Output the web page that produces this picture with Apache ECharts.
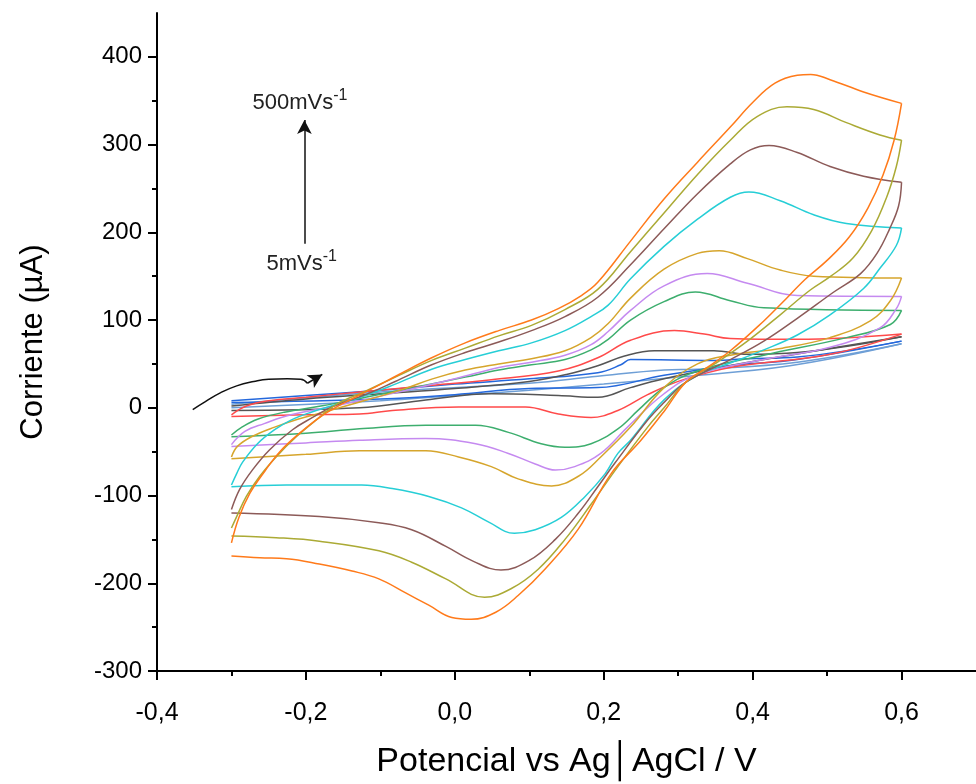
<!DOCTYPE html>
<html>
<head>
<meta charset="utf-8">
<script src="https://cdn.jsdelivr.net/npm/echarts@6/dist/echarts.min.js"></script>
<style>
html,body{margin:0;padding:0;background:#fff;}
#chart{width:976px;height:784px;}
</style>
</head>
<body>
<div id="chart"></div>
<script>
// ---- tick values ----
const xMajorTicks = [-0.4, -0.2, 0.0, 0.2, 0.4, 0.6];
const xMinorTicks = [-0.3, -0.1, 0.1, 0.3, 0.5];
const yMajorTicks = [-300, -200, -100, 0, 100, 200, 300, 400];
const yMinorTicks = [-250, -150, -50, 50, 150, 250, 350];

// ---- scan rate labels ----
const rateHigh = '500mVs';
const rateLow = '5mVs';

// ---- voltammograms: [potential V, current µA], forward and reverse sweeps ----
const fwd500 = [[-0.3,-154],[-0.29,-125],[-0.275,-97],[-0.255,-72],[-0.235,-50],[-0.21,-30],[-0.18,-10],[-0.15,5],[-0.113,21],[-0.075,38],[-0.031,57],[0.014,74],[0.059,88],[0.103,100],[0.139,113],[0.17,128],[0.192,143],[0.236,190],[0.281,238],[0.326,280],[0.37,320],[0.40,348],[0.43,370],[0.46,379],[0.478,380],[0.504,374],[0.549,360],[0.6,347]];
const rev500 = [[0.6,347],[0.59,305],[0.575,265],[0.555,228],[0.53,195],[0.5,168],[0.47,146],[0.44,120],[0.415,99],[0.37,65],[0.339,46],[0.31,29],[0.282,-3],[0.25,-37],[0.21,-75],[0.166,-138],[0.121,-184],[0.085,-214],[0.055,-233],[0.022,-241],[-0.004,-239],[-0.035,-225],[-0.066,-211],[-0.102,-195],[-0.138,-186],[-0.182,-178],[-0.226,-172],[-0.262,-171],[-0.3,-169]];

const fwd400 = [[-0.3,-137],[-0.293,-124],[-0.28,-101],[-0.262,-78],[-0.24,-56],[-0.213,-33],[-0.182,-11],[-0.159,4],[-0.12,19],[-0.075,37],[-0.031,54],[0.014,68],[0.059,82],[0.103,94],[0.148,112],[0.192,135],[0.236,178],[0.281,222],[0.326,266],[0.37,305],[0.406,332],[0.446,343],[0.482,340],[0.526,325],[0.571,311],[0.6,305]];
const rev400 = [[0.6,305],[0.593,275],[0.58,240],[0.56,202],[0.535,171],[0.505,150],[0.477,134],[0.437,106],[0.393,76],[0.349,50],[0.31,29],[0.281,0],[0.259,-22],[0.219,-67],[0.183,-110],[0.148,-150],[0.112,-184],[0.076,-206],[0.04,-216],[-0.012,-195],[-0.058,-176],[-0.102,-163],[-0.182,-152],[-0.24,-148],[-0.3,-146]];

const fwd300 = [[-0.3,-116],[-0.289,-93],[-0.272,-71],[-0.249,-48],[-0.218,-25],[-0.191,-11],[-0.165,1],[-0.12,15],[-0.08,30],[-0.031,49],[0.014,63],[0.059,75],[0.103,88],[0.148,104],[0.192,126],[0.236,163],[0.281,204],[0.326,244],[0.37,278],[0.397,294],[0.422,299],[0.46,291],[0.504,275],[0.549,264],[0.6,257]];
const rev300 = [[0.6,257],[0.596,230],[0.584,204],[0.567,176],[0.545,153],[0.509,132],[0.46,102],[0.415,76],[0.37,55],[0.31,29],[0.281,6],[0.259,-14],[0.215,-63],[0.192,-90],[0.166,-120],[0.135,-150],[0.1,-174],[0.062,-185],[0.025,-175],[-0.012,-158],[-0.058,-139],[-0.102,-131],[-0.182,-124],[-0.3,-120]];

const fwd200 = [[-0.3,-88],[-0.293,-75],[-0.285,-62],[-0.265,-41],[-0.242,-25],[-0.22,-14],[-0.193,-5],[-0.166,2],[-0.12,14],[-0.08,27],[-0.031,44],[0.014,55],[0.059,65],[0.103,74],[0.148,88],[0.183,104],[0.206,117],[0.236,147],[0.281,184],[0.326,215],[0.37,240],[0.395,246],[0.437,236],[0.482,220],[0.526,210],[0.6,205]];
const rev200 = [[0.6,205],[0.593,185],[0.571,159],[0.549,136],[0.504,106],[0.46,83],[0.415,66],[0.37,51],[0.326,37],[0.281,9],[0.236,-37],[0.219,-52],[0.202,-75],[0.175,-101],[0.143,-125],[0.108,-139],[0.08,-143],[0.045,-130],[0.009,-114],[-0.035,-101],[-0.084,-92],[-0.125,-88],[-0.226,-88],[-0.3,-90]];

const fwd100 = [[-0.3,-56],[-0.292,-44],[-0.273,-33],[-0.242,-22],[-0.211,-13],[-0.185,-7],[-0.13,6],[-0.07,21],[-0.03,33],[0.014,43],[0.059,50],[0.103,56],[0.148,65],[0.183,80],[0.206,96],[0.236,125],[0.281,158],[0.326,176],[0.355,179],[0.393,170],[0.437,157],[0.482,150],[0.6,148]];
const rev100 = [[0.6,148],[0.585,122],[0.558,99],[0.504,80],[0.44,68],[0.37,60],[0.326,50],[0.281,23],[0.236,-22],[0.196,-56],[0.166,-78],[0.13,-89],[0.085,-81],[0.049,-67],[0.005,-56],[-0.039,-49],[-0.128,-49],[-0.2,-53],[-0.3,-58]];

const fwd75 = [[-0.3,-42],[-0.282,-27],[-0.256,-18],[-0.22,-8],[-0.15,4],[-0.08,17],[0,33],[0.059,46],[0.103,52],[0.148,60],[0.183,72],[0.206,87],[0.236,111],[0.281,139],[0.339,153],[0.393,142],[0.46,128],[0.6,127]];
const rev75 = [[0.6,127],[0.593,113],[0.571,91],[0.504,69],[0.415,55],[0.326,38],[0.281,16],[0.232,-22],[0.196,-52],[0.161,-67],[0.135,-71],[0.108,-64],[0.072,-52],[0.028,-41],[-0.039,-35],[-0.128,-37],[-0.2,-40],[-0.3,-44]];

const fwd50 = [[-0.3,-31],[-0.286,-22],[-0.265,-13],[-0.229,-5],[-0.18,2],[-0.12,12],[-0.05,24],[0.014,35],[0.059,43],[0.103,49],[0.148,55],[0.183,66],[0.206,78],[0.236,100],[0.281,121],[0.323,132],[0.37,122],[0.415,114],[0.6,111]];
const rev50 = [[0.6,111],[0.585,95],[0.526,80],[0.415,60],[0.326,42],[0.281,23],[0.246,-3],[0.219,-24],[0.183,-41],[0.148,-45],[0.116,-41],[0.072,-28],[0.028,-20],[-0.039,-20],[-0.128,-24],[-0.2,-29],[-0.3,-33]];

const fwd25 = [[-0.3,-8],[-0.28,2],[-0.25,8],[-0.2,12],[-0.128,18],[-0.039,25],[0.049,32],[0.139,42],[0.192,57],[0.236,77],[0.295,88],[0.335,84],[0.37,79],[0.46,78],[0.6,84]];
const rev25 = [[0.6,84],[0.504,61],[0.37,46],[0.303,31],[0.259,15],[0.219,-3],[0.183,-11],[0.139,-7],[0.095,1],[0.005,1],[-0.084,-3],[-0.128,-7],[-0.2,-8],[-0.3,-10]];

const fwd20 = [[-0.3,2],[-0.2,10],[-0.1,16],[0,22],[0.1,30],[0.15,38],[0.192,48],[0.228,59],[0.268,65],[0.348,65],[0.393,61],[0.46,63],[0.6,81]];
const rev20 = [[0.6,81],[0.45,60],[0.35,45],[0.281,33],[0.236,23],[0.192,12],[0.139,14],[0.049,16],[-0.039,9],[-0.128,0],[-0.3,-3]];

const fwd10 = [[-0.3,8],[-0.2,14],[-0.1,20],[0,27],[0.1,33],[0.192,40],[0.223,49],[0.236,55],[0.348,54],[0.393,56],[0.46,58],[0.6,76]];
const rev10 = [[0.6,76],[0.46,55],[0.37,48],[0.281,37],[0.192,23],[0.1,22],[0,15],[-0.1,10],[-0.3,6]];

const fwd5 = [[-0.3,4],[-0.1,18],[0.1,28],[0.192,36],[0.281,43],[0.326,44],[0.46,52],[0.6,73]];
const rev5 = [[0.6,73],[0.45,48],[0.3,35],[0.2,27],[0.1,20],[0,14],[-0.1,8],[-0.3,0]];

// ---- annotations (data coordinates) ----
const rateArrow = [[-0.202, 187], [-0.202, 328]];
const sweepArrowPath = [[-0.352,-2],[-0.335,7],[-0.315,17],[-0.293,25],[-0.27,30],[-0.25,32.5],[-0.225,33],[-0.207,32.5],[-0.198,28]];
const sweepArrowHead = [[-0.198,28],[-0.178,38]];

const curves = [
  {name:'5', color:'#6E9FD6', fwd:fwd5, rev:rev5},
  {name:'10', color:'#2468DC', fwd:fwd10, rev:rev10},
  {name:'20', color:'#555555', fwd:fwd20, rev:rev20},
  {name:'25', color:'#FF4A4A', fwd:fwd25, rev:rev25},
  {name:'50', color:'#3DAE6E', fwd:fwd50, rev:rev50},
  {name:'75', color:'#C58AF0', fwd:fwd75, rev:rev75},
  {name:'100', color:'#D6A52C', fwd:fwd100, rev:rev100},
  {name:'200', color:'#26CED6', fwd:fwd200, rev:rev200},
  {name:'300', color:'#8C5A58', fwd:fwd300, rev:rev300},
  {name:'400', color:'#ABAA35', fwd:fwd400, rev:rev400},
  {name:'500', color:'#FF7A1A', fwd:fwd500, rev:rev500}
];

const FONT = 'Liberation Sans, Arial, sans-serif';
const series = [];
curves.forEach(c => {
  [c.fwd, c.rev].forEach(d => {
    series.push({
      type:'line', name:c.name, data:d, smooth:0.4, showSymbol:false, symbol:'none',
      lineStyle:{color:c.color, width:1.5}, itemStyle:{color:c.color}, silent:true, clip:false
    });
  });
});
// annotation: sweep direction arrow and scan-rate arrow
series.push({
  type:'line', data:sweepArrowPath, smooth:0.5, symbol:'none', silent:true,
  lineStyle:{color:'#111', width:1.5},
  markLine:{silent:true, symbol:['none','arrow'], symbolSize:[11,14], label:{show:false},
    lineStyle:{color:'#111', width:1.5, type:'solid'},
    data:[[{coord:sweepArrowHead[0]},{coord:sweepArrowHead[1]}], [{coord:rateArrow[0]},{coord:rateArrow[1]}]]}
});

const chart = echarts.init(document.getElementById('chart'), null, {renderer:'canvas'});
const axisCommon = {
  axisLine:{show:true, onZero:false, lineStyle:{color:'#000', width:2}},
  splitLine:{show:false}
};
chart.setOption({
  animation:false,
  backgroundColor:'#fff',
  grid:{left:157, right:-4, top:13, bottom:108, containLabel:false},
  xAxis:[
    Object.assign({}, axisCommon, {
      type:'value', min:-0.4, max:0.7, position:'bottom',
      axisTick:{show:true, inside:false, length:9, lineStyle:{color:'#000', width:2}, customValues:xMajorTicks},
      axisLabel:{show:true, margin:30, fontSize:25, fontFamily:FONT, color:'#000', customValues:xMajorTicks,
        formatter:v => v.toFixed(1).replace('.', ',')},
      name:'Potencial vs Ag\u2502AgCl / V', nameLocation:'middle', nameGap:74,
      nameTextStyle:{fontSize:34, fontFamily:FONT, color:'#000'}
    }),
    {
      type:'value', min:-0.4, max:0.7, position:'bottom', gridIndex:0,
      axisLine:{show:false, onZero:false}, splitLine:{show:false}, axisLabel:{show:false},
      axisTick:{show:true, inside:false, length:5, lineStyle:{color:'#000', width:2}, customValues:xMinorTicks}
    }
  ],
  yAxis:[
    Object.assign({}, axisCommon, {
      type:'value', min:-300, max:450, position:'left',
      axisTick:{show:true, inside:false, length:9, lineStyle:{color:'#000', width:2}, customValues:yMajorTicks},
      axisLabel:{show:true, margin:15, fontSize:24, fontFamily:FONT, color:'#000', customValues:yMajorTicks},
      name:'Corriente (\u00b5A)', nameLocation:'middle', nameGap:108,
      nameTextStyle:{fontSize:31, fontFamily:FONT, color:'#000'}
    }),
    {
      type:'value', min:-300, max:450, position:'left', gridIndex:0,
      axisLine:{show:false, onZero:false}, splitLine:{show:false}, axisLabel:{show:false},
      axisTick:{show:true, inside:false, length:5, lineStyle:{color:'#000', width:2}, customValues:yMinorTicks}
    }
  ],
  series: series
});

// rate labels positioned at the ends of the rate arrow
const topPt = chart.convertToPixel({gridIndex:0}, rateArrow[1]);
const botPt = chart.convertToPixel({gridIndex:0}, rateArrow[0]);
function rateLabel(txt, cx, cy) {
  return {
    type:'text', left:cx, top:cy, silent:true,
    style:{
      text:'{a|' + txt + '}{b|-1}',
      rich:{
        a:{fontSize:22, fontFamily:FONT, fill:'#222', verticalAlign:'bottom', lineHeight:26},
        b:{fontSize:16, fontFamily:FONT, fill:'#222', verticalAlign:'top', lineHeight:26, padding:[0,0,12,0]}
      }
    }
  };
}
chart.setOption({
  graphic:[
    rateLabel(rateHigh, topPt[0]-52, topPt[1]-32),
    rateLabel(rateLow, botPt[0]-38, botPt[1]+5)
  ]
});
</script>
</body>
</html>
